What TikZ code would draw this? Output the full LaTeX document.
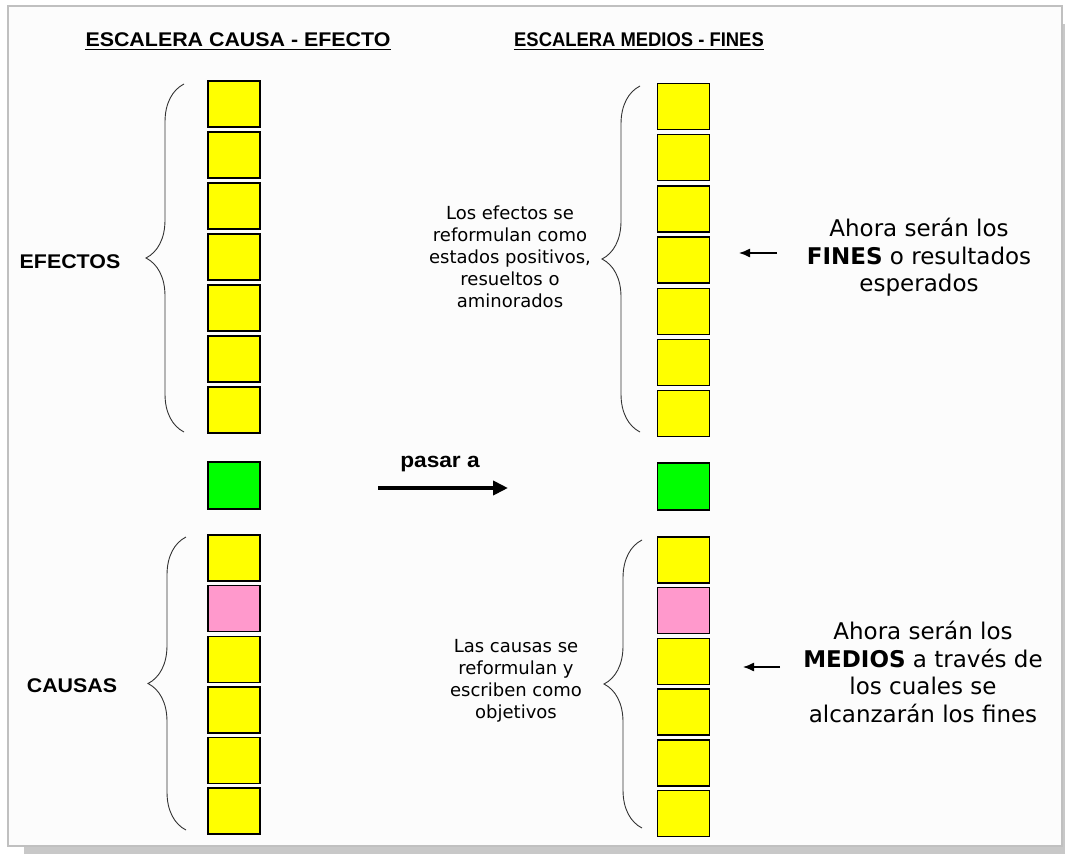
\documentclass[tikz,border=0pt]{standalone}
\usepackage{fontspec}
\setmainfont{DejaVu Sans}
\newfontfamily\arialfont[FakeStretch=1.08]{Liberation Sans}
\newfontfamily\arialnarrow[FakeStretch=0.93]{Liberation Sans}
\usepackage{tikz}
\usetikzlibrary{arrows.meta,positioning,decorations.pathreplacing}
\definecolor{amarillo}{HTML}{FFFF00}
\definecolor{verde}{HTML}{00FF00}
\definecolor{rosa}{HTML}{FF99CC}
\definecolor{marco}{HTML}{C0C0C0}
\definecolor{sombra}{HTML}{C8C8C8}

\begin{document}
\begin{tikzpicture}[x=1pt,y=-1pt,
    peldano/.style={draw,line width=1.4pt,minimum width=52pt,minimum height=46pt,inner sep=0pt,fill=amarillo},
    llave/.style={draw=black!80,line width=0.9pt,decorate,decoration={brace,amplitude=38pt}},
    titulo/.style={font=\arialfont\bfseries\fontsize{19.8}{23}\selectfont,inner sep=0pt,anchor=base},
    nota/.style={font=\fontsize{18}{22}\selectfont,align=center},
    meta/.style={font=\fontsize{23}{27.5}\selectfont,align=center}] % causa-efecto -> medios-fines
  \useasboundingbox (0,0) rectangle (1065,854);
  \fill[sombra] (24,846) rectangle (1065,854);
  \fill[sombra] (1062,24) rectangle (1065,854);
  \draw[marco,line width=2.5pt,fill=white!99!black] (8,6) rectangle (1062,846);

  % titulos
  \node[titulo] (t1) at (238,46) {ESCALERA CAUSA - EFECTO};
  \node[titulo,font=\arialnarrow\bfseries\fontsize{19.8}{23}\selectfont] (t2) at (639,46) {ESCALERA MEDIOS - FINES};
  \draw[line width=1.4pt] ([yshift=-3.5pt]t1.base west) -- ([yshift=-3.5pt]t1.base east);
  \draw[line width=1.4pt] ([yshift=-3.5pt]t2.base west) -- ([yshift=-3.5pt]t2.base east);

  % escalera causa - efecto
  \node[peldano] (e1) at (234,104) {};
  \node[peldano,below=3.6pt of e1] (e2) {};
  \node[peldano,below=3.6pt of e2] (e3) {};
  \node[peldano,below=3.6pt of e3] (e4) {};
  \node[peldano,below=3.6pt of e4] (e5) {};
  \node[peldano,below=3.6pt of e5] (e6) {};
  \node[peldano,below=3.6pt of e6] (e7) {};
  \node[peldano,fill=verde,minimum height=47pt] (p1) at (234,485.5) {};
  \node[peldano] (c1) at (234,558) {};
  \node[peldano,fill=rosa,below=3.2pt of c1] (c2) {};
  \node[peldano,below=3.2pt of c2] (c3) {};
  \node[peldano,below=3.2pt of c3] (c4) {};
  \node[peldano,below=3.2pt of c4] (c5) {};
  \node[peldano,below=3.2pt of c5] (c6) {};

  % escalera medios - fines
  \node[peldano] (f1) at (683.5,106.5) {};
  \node[peldano,below=3.8pt of f1] (f2) {};
  \node[peldano,below=3.8pt of f2] (f3) {};
  \node[peldano,below=3.8pt of f3] (f4) {};
  \node[peldano,below=3.8pt of f4] (f5) {};
  \node[peldano,below=3.8pt of f5] (f6) {};
  \node[peldano,below=3.8pt of f6] (f7) {};
  \node[peldano,fill=verde,minimum height=47pt] (p2) at (683.5,486.5) {};
  \node[peldano] (m1) at (683.5,560) {};
  \node[peldano,fill=rosa,below=3.3pt of m1] (m2) {};
  \node[peldano,below=3.3pt of m2] (m3) {};
  \node[peldano,below=3.3pt of m3] (m4) {};
  \node[peldano,below=3.3pt of m4] (m5) {};
  \node[peldano,below=3.3pt of m5] (m6) {};

  % llaves
  \coordinate (le1) at (184,84);   \coordinate (le2) at (184,432);
  \coordinate (lc1) at (186,537);  \coordinate (lc2) at (186,830);
  \coordinate (lf1) at (640,86);   \coordinate (lf2) at (640,432);
  \coordinate (lm1) at (642,540);  \coordinate (lm2) at (642,828);
  \draw[llave] (le2) -- (le1);
  \draw[llave] (lc2) -- (lc1);
  \draw[llave] (lf2) -- (lf1);
  \draw[llave] (lm2) -- (lm1);
  \node[titulo,anchor=center] (efectos) at (70,262) {EFECTOS};
  \node[titulo,anchor=center] (causas) at (72,686) {CAUSAS};

  % pasar a
  \coordinate (pa1) at (378,488);
  \coordinate (pa2) at (508,488);
  \draw[line width=4pt,-{Triangle[length=15pt,width=14pt]}] (pa1) -- (pa2);
  \node[titulo,font=\arialfont\bfseries\fontsize{21}{24}\selectfont] (pasar) at (440,467) {pasar a};

  % textos
  \node[nota] (nf) at (510,257) {Los efectos se\\reformulan como\\estados positivos,\\resueltos o\\aminorados};
  \node[nota] (nm) at (516,680.5) {Las causas se\\reformulan y\\escriben como\\objetivos};
  \node[meta] (fines) at (919,257.4) {Ahora serán los\\\textbf{FINES} o resultados\\esperados};
  \node[meta] (medios) at (923,671.8) {Ahora serán los\\\textbf{MEDIOS} a través de\\los cuales se\\alcanzarán los fines};
  \coordinate (af1) at (777,253);  \coordinate (af2) at (739,253);
  \coordinate (am1) at (780,667);  \coordinate (am2) at (743,667);
  \draw[line width=1.3pt,-{Latex[length=11pt,width=9pt]}] (af1) -- (af2);
  \draw[line width=1.3pt,-{Latex[length=11pt,width=9pt]}] (am1) -- (am2);
\end{tikzpicture}
\end{document}
